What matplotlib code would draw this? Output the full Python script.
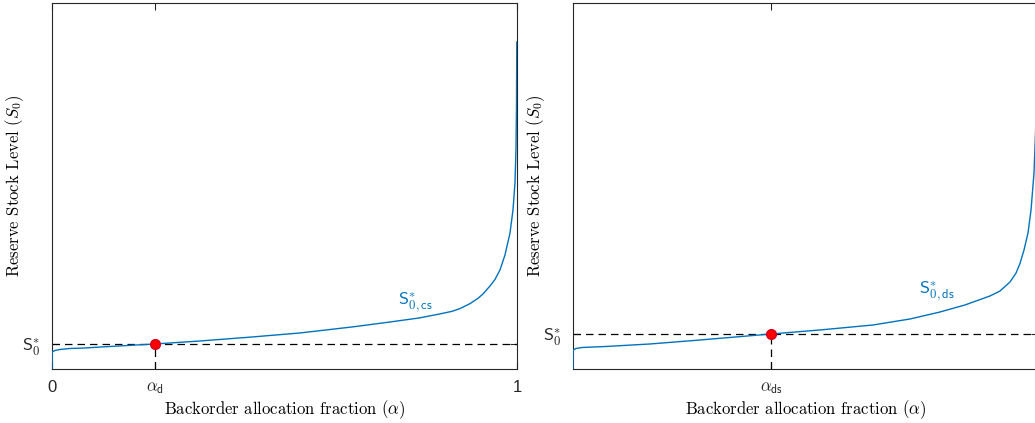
import matplotlib
matplotlib.use("Agg")
import matplotlib.pyplot as plt

plt.rcParams['mathtext.fontset'] = 'cm'
plt.rcParams['font.family'] = ['Liberation Sans', 'DejaVu Sans']

# curve of the centralised strategy (left)
alpha_cs = [0.0, 0.0005, 0.0065, 0.0172, 0.0387, 0.071, 0.1247, 0.2215, 0.3183,
            0.4301, 0.5333, 0.6452, 0.7269, 0.7892, 0.8344, 0.8602, 0.8774,
            0.8989, 0.9161, 0.9269, 0.9419, 0.9527, 0.9634, 0.9742, 0.9849,
            0.9914, 0.9957, 0.9978, 0.9989, 0.9996]
s0_cs = [0.0, 0.0464, 0.0505, 0.0533, 0.056, 0.0574, 0.0615, 0.0683, 0.0765,
         0.0874, 0.0984, 0.1148, 0.1284, 0.1393, 0.1505, 0.1575, 0.165,
         0.1785, 0.193, 0.2049, 0.2268, 0.2445, 0.2705, 0.3115, 0.371,
         0.4344, 0.5082, 0.5984, 0.7077, 0.8934]
alpha_d = 0.2215
s0_d = 0.0683

# curve of the decentralised strategy (right)
alpha_ds = [0.0, 0.0005, 0.0065, 0.0194, 0.071, 0.1656, 0.2731, 0.4258, 0.5312,
            0.6452, 0.7247, 0.7892, 0.843, 0.8968, 0.9183, 0.9398, 0.9527,
            0.9613, 0.9699, 0.9785, 0.985, 0.9914, 0.9957, 1.0]
s0_ds = [0.0, 0.0519, 0.056, 0.0587, 0.0615, 0.0683, 0.0792, 0.0956, 0.1066,
         0.1202, 0.1366, 0.1557, 0.1749, 0.1995, 0.2131, 0.2377, 0.262,
         0.2885, 0.3251, 0.3716, 0.4344, 0.5355, 0.6803, 0.9016]
alpha_dsv = 0.4258
s0_dsv = 0.0956

blue = '#0072BD'
axcol = '#262626'

fig = plt.figure(figsize=(10.35, 4.23), dpi=100)


def panel(rect, a, s, ax0, y0, tick_lab, curve_lab, lab_xy, xticks, xticklabels):
    ax = fig.add_axes(rect)
    ax.plot(a, s, color=blue, lw=1.0, zorder=3)
    ax.plot([0, 1], [y0, y0], color='k', lw=0.9, dashes=(6, 4), zorder=2)
    ax.plot([ax0, ax0], [0, y0], color='k', lw=0.9, dashes=(6, 4), zorder=2)
    ax.plot([ax0], [y0], 'o', color='#ff0000', mec='#d00020', ms=7, zorder=4)
    ax.set_xlim(0, 1)
    ax.set_ylim(0, 1)
    ax.set_xticks(xticks)
    ax.set_xticklabels(xticklabels, fontsize=12, math_fontfamily='cm')
    ax.set_yticks([y0])
    ax.set_yticklabels([tick_lab], fontsize=13)
    ax.tick_params(direction='in', top=True, right=True, length=5, width=0.8,
                   colors=axcol, pad=8)
    for sp in ax.spines.values():
        sp.set_color(axcol)
        sp.set_linewidth(0.8)
    ax.text(lab_xy[0], lab_xy[1], curve_lab, color=blue, fontsize=13)
    ax.set_xlabel(r'Backorder allocation fraction ($\alpha$)', family='cmr10',
                  fontsize=12)
    ax.xaxis.set_label_coords(0.5, -0.08)
    ax.set_ylabel(r'Reserve Stock Level ($S_0$)', family='cmr10', fontsize=12)
    ax.yaxis.set_label_coords(-0.055, 0.5)
    return ax


panel([0.0502, 0.1277, 0.4493, 0.8652], alpha_cs, s0_cs, alpha_d, s0_d,
      r'$\mathsf{S}_{\mathsf{0}}^{*}$', r'$\mathsf{S}_{\mathsf{0,cs}}^{*}$',
      (0.745, 0.175), [0, alpha_d, 1],
      ['0', r'$\alpha_{\mathsf{d}}$', '1'])

panel([0.5536, 0.1277, 0.4493, 0.8652], alpha_ds, s0_ds, alpha_dsv, s0_dsv,
      r'$\mathsf{S}_{\mathsf{0}}^{*}$', r'$\mathsf{S}_{\mathsf{0,ds}}^{*}$',
      (0.745, 0.205), [alpha_dsv],
      [r'$\alpha_{\mathsf{ds}}$'])

fig.savefig('out.png', dpi=100)
